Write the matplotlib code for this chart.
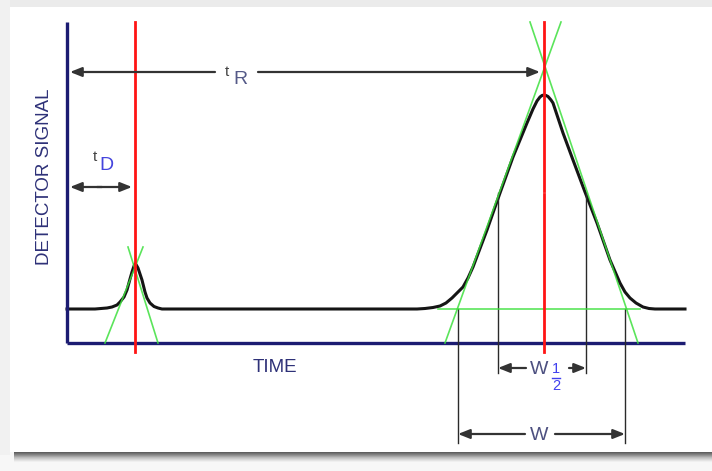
import matplotlib
matplotlib.use('Agg')
import numpy as np
import matplotlib.pyplot as plt
from matplotlib.patches import Rectangle

# chromatogram trace (time, detector signal)
time = [0, 28, 40, 45, 50, 53, 57, 60, 63, 65, 67, 68, 69, 71, 73, 75, 78, 80, 83, 87, 91, 95,
        350, 358, 366, 373, 379, 385, 391, 396, 401, 406, 420, 433, 446, 460, 466,
        470, 473, 475, 477, 479, 481, 484, 486, 496, 506, 518, 530, 543, 553,
        558, 563, 569, 576, 582, 588, 618]
signal = [34, 34, 35, 36, 38, 41, 46, 53, 64, 71, 77, 79, 78.5, 75, 69, 63, 51, 45, 40, 36.5, 35, 34,
          34, 34.5, 35.5, 37, 40, 45, 51, 56, 65, 76, 113, 150, 186, 220, 234,
          242, 246, 247.5, 248, 247.5, 246.5, 243, 240, 210, 183, 151, 120, 83, 60,
          51, 45, 40, 36, 34.5, 34, 34]

t_dead = 68        # unretained peak
t_ret = 477        # retained peak
baseline = 34
half_height = 150
w_half = [431, 519]
w_base = [391, 558]

# tangent lines (start, end) for both peaks
tan_small_left = ([38, 76], [0, 96])
tan_small_right = ([91, 61], [0, 96])
tan_big_left = ([378, 494], [0, 321])
tan_big_right = ([571, 463], [0, 321])
green_base = ([371, 573], [34, 34])

t_end = 618
s_top = 321

NAVY = '#1c1c72'
RED = '#ff1414'
GREEN = '#3ee03e'
DARK = '#2a2a2a'
plt.rcParams['font.family'] = ['Liberation Sans', 'DejaVu Sans']

fig = plt.figure(figsize=(7.12, 4.71), dpi=100)
fig.patch.set_facecolor('#f7f7f7')

# card background with drop shadow
bg = fig.add_axes([0, 0, 1, 1])
bg.set_xlim(0, 712)
bg.set_ylim(471, 0)
bg.axis('off')
bg.add_patch(Rectangle((0, 0), 712, 8, color='#ebebeb', lw=0))
bg.add_patch(Rectangle((0, 0), 10, 455, color='#f1f1f1', lw=0))
grad = np.linspace(0, 1, 12)[:, None]
bg.imshow(grad, extent=(14, 712, 463, 451), cmap='Greys_r', vmin=-0.35, vmax=1.1,
          aspect='auto', interpolation='bilinear')
bg.add_patch(Rectangle((10, 7), 702, 445, color='white', lw=0))

ax = fig.add_axes([0, 0, 1, 1])
ax.set_xlim(-67, 645)
ax.set_ylim(-128, 343)
ax.axis('off')
ax.patch.set_alpha(0)

# axes of the chromatogram
ax.plot([0, 0], [0, s_top], color=NAVY, lw=2.4, solid_capstyle='butt', zorder=3)
ax.plot([0, t_end], [0, 0], color=NAVY, lw=2.4, solid_capstyle='butt', zorder=3)

# signal
ax.plot(time, signal, color='#151515', lw=2.2, zorder=2, solid_joinstyle='round')

# tangents and baseline
for tx, ty in [tan_small_left, tan_small_right, tan_big_left, tan_big_right, green_base]:
    ax.plot(tx, ty, color=GREEN, lw=1.2, alpha=0.85, zorder=4)

# width markers
for t in w_half:
    ax.plot([t, t], [half_height, -30], color=DARK, lw=1.0, zorder=3)
for t in w_base:
    ax.plot([t, t], [baseline, -100], color=DARK, lw=1.0, zorder=3)

# retention time markers
ax.plot([t_dead, t_dead], [-9, s_top], color=RED, lw=2.0, zorder=5)
ax.plot([t_ret, t_ret], [-9, half_height - 1], color=RED, lw=2.0, zorder=5)
ax.plot([t_ret, t_ret], [half_height + 2, s_top], color=RED, lw=2.0, zorder=5)


def arrow(x0, x1, y):
    ax.annotate('', xy=(x1, y), xytext=(x0, y),
                arrowprops=dict(arrowstyle='-|>,head_length=0.7,head_width=0.28',
                                color='#333333', lw=1.6, shrinkA=0, shrinkB=0,
                                mutation_scale=10), zorder=6)


# t_R
arrow(148, 3, 271)
arrow(191, t_ret - 4, 271)
# t_D
arrow(35, 3, 156)
arrow(30, t_dead - 3, 156)
# W 1/2
arrow(459, w_half[0], -25)
arrow(502, w_half[1], -25)
# W
arrow(458, w_base[0], -91)
arrow(488, w_base[1], -91)

# labels
ax.text(-22, 166, 'DETECTOR SIGNAL', rotation=90, ha='center', va='center',
        fontsize=13.5, color='#2e3178')
ax.text(208, -24, 'TIME', ha='center', va='center', fontsize=13.5, color='#2e3178')
ax.text(160, 271, 't', ha='center', va='center', fontsize=11, color='#444444')
ax.text(173, 263, 'R', ha='center', va='center', fontsize=14, color='#555a88')
ax.text(28, 186, 't', ha='center', va='center', fontsize=11, color='#444444')
ax.text(39, 178, 'D', ha='center', va='center', fontsize=14, color='#4444dd')
ax.text(472, -27, 'W', ha='center', va='center', fontsize=14, color='#4d5080')
ax.text(489, -26, '1', ha='center', va='center', fontsize=10.5, color='#4040ee')
ax.plot([485, 493], [-34.5, -34.5], color='#4040ee', lw=1.0)
ax.text(489, -43, '2', ha='center', va='center', fontsize=10.5, color='#4040ee')
ax.text(472, -92, 'W', ha='center', va='center', fontsize=14, color='#4d5080')

fig.savefig('out.png', dpi=100, facecolor=fig.get_facecolor())
